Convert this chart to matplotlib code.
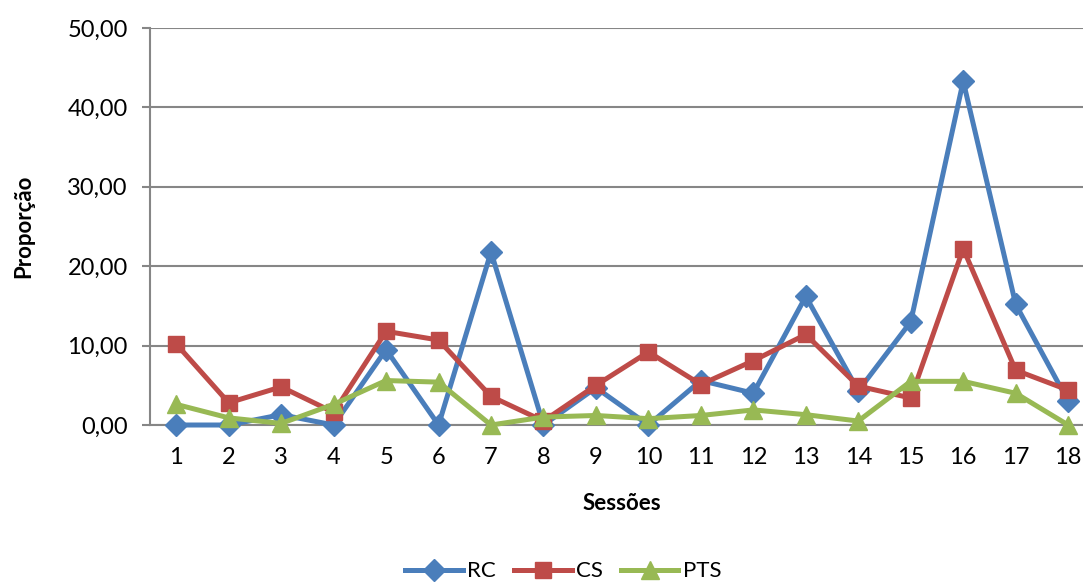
import matplotlib.pyplot as plt
from matplotlib.ticker import FuncFormatter

plt.rcParams['font.family'] = ['Lato', 'DejaVu Sans']

sessoes = list(range(1, 19))
rc = [0.0, 0.0, 1.3, 0.0, 9.5, 0.0, 21.8, 0.0, 4.7, 0.0, 5.6, 4.0, 16.2, 4.3, 13.0, 43.3, 15.2, 3.0]
cs = [10.2, 2.8, 4.8, 1.6, 11.8, 10.7, 3.6, 0.5, 5.0, 9.2, 5.1, 8.1, 11.4, 4.9, 3.4, 22.2, 6.9, 4.4]
pts = [2.6, 0.9, 0.2, 2.6, 5.6, 5.4, 0.0, 1.0, 1.2, 0.8, 1.2, 1.9, 1.3, 0.5, 5.5, 5.5, 4.0, 0.0]

fig = plt.figure(figsize=(10.83, 5.83), dpi=100)
ax = fig.add_axes([0.1385, 0.271, 0.872, 0.681])

ax.plot(sessoes, rc, color='#4A7EBB', lw=3.6, marker='D', ms=11, label='RC', clip_on=False, zorder=3)
ax.plot(sessoes, cs, color='#BE4B48', lw=3.6, marker='s', ms=12, label='CS', clip_on=False, zorder=4)
ax.plot(sessoes, pts, color='#98B954', lw=3.6, marker='^', ms=13, label='PTS', clip_on=False, zorder=5)

ax.set_xlim(0.5, 18.5)
ax.set_ylim(0, 50)
ax.set_xticks(sessoes)
ax.set_yticks(range(0, 51, 10))
ax.yaxis.set_major_formatter(FuncFormatter(lambda v, p: f'{v:.2f}'.replace('.', ',')))
ax.grid(axis='y', color='#868686', lw=1.5)
ax.set_axisbelow(True)

for s in ['top', 'right']:
    ax.spines[s].set_visible(False)
for s in ['left', 'bottom']:
    ax.spines[s].set_color('#868686')
    ax.spines[s].set_linewidth(1.5)

ax.tick_params(axis='x', length=0, labelsize=17, pad=16)
ax.tick_params(axis='y', length=6, width=1.5, color='#868686', labelsize=17, pad=10)

ax.set_xlabel('Sessões', fontsize=16, fontweight='bold', labelpad=18)
ax.set_ylabel('Proporção', fontsize=16, fontweight='bold', labelpad=24)

fig.legend(loc='center', bbox_to_anchor=(0.52, 0.02), ncol=3, frameon=False,
           fontsize=16, handlelength=2.6, columnspacing=0.8, handletextpad=0.2)

fig.savefig('out.png', dpi=100)
